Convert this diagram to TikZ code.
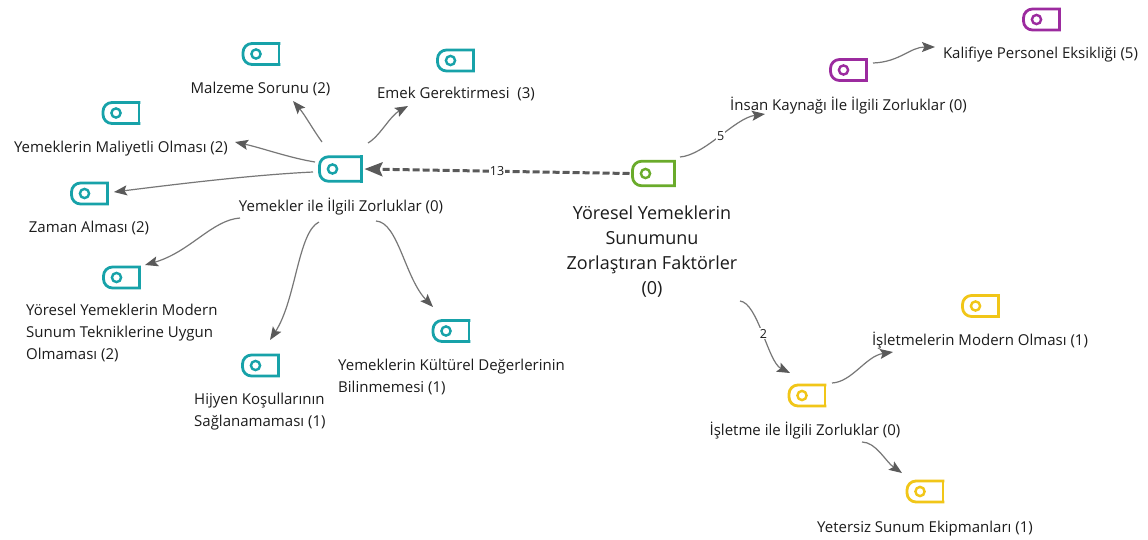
\documentclass[tikz,border=0pt]{standalone}
\usepackage{fontspec}
\setmainfont{Open Sans}
\usetikzlibrary{arrows.meta,calc}
\definecolor{cteal}{HTML}{17A2A9}
\definecolor{cgreen}{HTML}{6AAB2B}
\definecolor{cpurple}{HTML}{9C2B9F}
\definecolor{cyellow}{HTML}{F1C618}
\definecolor{ctext}{HTML}{1C1C1C}
\definecolor{cedge}{HTML}{777777}
\definecolor{chead}{HTML}{5A5A5A}
% #1 name, #2 position, #3 colour, #4 width, #5 height
\newcommand\tagicon[5]{%
  \node[minimum width=#4pt, minimum height=#5pt, inner sep=0pt, outer sep=0pt] (#1) at (#2) {};
  \draw[#3, line width=2.8pt, line cap=rect, rounded corners=9pt]
    (#1.north east) -- (#1.north west) -- (#1.south west) -- (#1.south east);
  \draw[#3, line width=2.8pt, line cap=rect] (#1.south east) -- (#1.north east);
  \draw[#3, line width=2.4pt] ($(#1.west)+(13,0)$) circle[radius=4.6pt];
}
\begin{document}
\begin{tikzpicture}[x=1pt,y=-1pt,
  lab/.style={font=\fontsize{15}{22}\selectfont, text=ctext, inner sep=0pt, anchor=base},
  mlab/.style={font=\fontsize{15}{22}\selectfont, text=ctext, inner sep=0pt, align=left, anchor=north west},
  glab/.style={font=\fontsize{18}{25}\selectfont, text=ctext, inner sep=0pt, align=center, anchor=north},
  conn/.style={draw=cedge, line width=1.2pt, -{Stealth[length=13pt,width=10pt,inset=2.5pt,color=chead]}},
  dconn/.style={draw=chead, line width=3pt, dash pattern=on 7pt off 3pt, -{Stealth[length=18pt,width=14pt,inset=3pt,color=chead]}},
  elab/.style={font=\fontsize{12.5}{14}\selectfont, text=ctext, fill=white, inner sep=1pt}]
\fill[white] (0,0) rectangle (1148,539);
\useasboundingbox (0,0) rectangle (1148,539);

% icons
\tagicon{yemI}{340.5,169}{cteal}{42}{24.5}
\tagicon{grnI}{653.5,173.5}{cgreen}{42}{24.5}
\tagicon{malI}{261,54}{cteal}{36}{21}
\tagicon{emkI}{455.5,60.5}{cteal}{36}{21}
\tagicon{malyI}{121,113}{cteal}{36}{21}
\tagicon{zamI}{89.5,193.5}{cteal}{36}{21}
\tagicon{modI}{121.5,277.5}{cteal}{36}{21}
\tagicon{hijI}{260.5,365.5}{cteal}{36}{21}
\tagicon{kulI}{451,331}{cteal}{36}{21}
\tagicon{insI}{848.5,70}{cpurple}{36}{21}
\tagicon{kalI}{1041.5,19.5}{cpurple}{36}{21}
\tagicon{isI}{807,395.5}{cyellow}{36}{21}
\tagicon{imoI}{980.5,306}{cyellow}{36}{21}
\tagicon{yetI}{925,491.5}{cyellow}{36}{21}

% labels
\node[lab] (yemL) at (341,211.5) {Yemekler ile İlgili Zorluklar (0)};
\node[lab] (malL) at (260.5,93.5) {Malzeme Sorunu (2)};
\node[lab] (emkL) at (456,98.5) {Emek Gerektirmesi~ (3)};
\node[lab] (malyL) at (121,152.5) {Yemeklerin Maliyetli Olması (2)};
\node[lab] (zamL) at (89,232.5) {Zaman Alması (2)};
\node[mlab] (modL) at (26,304) {Yöresel Yemeklerin Modern\\Sunum Tekniklerine Uygun\\Olmaması (2)};
\node[mlab] (hijL) at (194,393) {Hijyen Koşullarının\\Sağlanamaması (1)};
\node[mlab] (kulL) at (338,359) {Yemeklerin Kültürel Değerlerinin\\Bilinmemesi (1)};
\node[glab] (grnL) at (652,206) {Yöresel Yemeklerin\\Sunumunu\\Zorlaştıran Faktörler\\(0)};
\node[lab] (insL) at (848.5,110.5) {İnsan Kaynağı İle İlgili Zorluklar (0)};
\node[lab] (kalL) at (1040.5,58.5) {Kalifiye Personel Eksikliği (5)};
\node[lab] (isL) at (805,435.5) {İşletme ile İlgili Zorluklar (0)};
\node[lab] (imoL) at (980,345.5) {İşletmelerin Modern Olması (1)};
\node[lab] (yetL) at (925,532.5) {Yetersiz Sunum Ekipmanları (1)};

% connectors
\draw[dconn] ($(grnI.west)+(-3,0)$) -- ($(yemI.east)+(3,0)$) node[elab,pos=0.5] {13};
\draw[conn] ($(yemI)+(-18.5,-27)$) .. controls (312,128) and (305,115) .. ($(malL.base)+(32.5,7.5)$);
\draw[conn] ($(yemI)+(27.5,-26)$) .. controls (380,136) and (390,116) .. ($(emkL.base)+(-48,7.5)$);
\draw[conn] ($(yemI)+(-25.5,-7)$) .. controls (290,158) and (262,148) .. ($(malyL.base)+(114,-10.5)$);
\draw[conn] ($(yemI)+(-27.5,3)$) .. controls (250,175) and (170,185) .. ($(zamI)+(24.5,-1.5)$);
\draw[conn] ($(yemL.base)+(-101,6.5)$) .. controls (212,220) and (190,252) .. ($(modI)+(23.5,-12.5)$);
\draw[conn] ($(yemL.base)+(-22,10.5)$) .. controls (298,232) and (296,300) .. ($(hijI)+(9.5,-25.5)$);
\draw[conn] ($(yemL.base)+(35,9.5)$) .. controls (398,222) and (405,278) .. ($(kulI)+(-18,-24)$);
\draw[conn] ($(grnI)+(26.5,-16.5)$) .. controls (705,155) and (735,118) .. ($(insL.base)+(-83.5,3.5)$) node[elab,pos=0.5] {5};
\draw[conn] ($(insI)+(24.5,-7)$) .. controls (900,62) and (910,47) .. ($(kalL.base)+(-105.5,-11.5)$);
\draw[conn] ($(grnI)+(86.5,127.5)$) .. controls (758,303) and (768,362) .. ($(isI)+(-17,-22.5)$) node[elab,pos=0.5] {2};
\draw[conn] ($(isI)+(25,-12.5)$) .. controls (852,382) and (866,356) .. ($(imoL.base)+(-87,6.5)$);
\draw[conn] ($(isL.base)+(57,6.5)$) .. controls (876,442) and (886,462) .. ($(yetI)+(-23,-18.5)$);
\end{tikzpicture}
\end{document}
